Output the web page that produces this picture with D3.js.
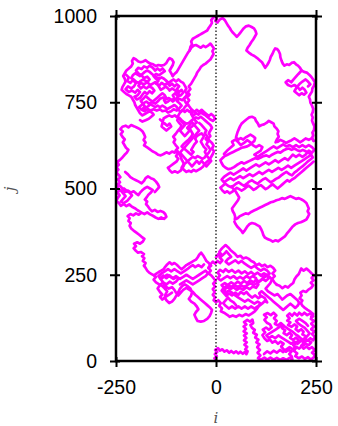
<!DOCTYPE html>
<html><head><meta charset="utf-8">
<script src="https://cdn.jsdelivr.net/npm/d3@7"></script>
<style>body{margin:0;background:#fff}</style>
</head><body><svg id="c" width="338" height="426"></svg>
<script>
const xTicks=[-250,0,250];
const yTicks=[0,250,500,750,1000];
const xLabel="i", yLabel="j";

const segStart=[[0,2],[-4,8],[2,14],[-3,20],[3,26],[-2,32],[5,37],[10,30],[16,34],[21,27],[27,31],[33,24],[38,29],[44,23],[50,28],[56,22],[61,27],[67,21],[72,26],[76,20],[79,28],[73,34],[78,41],[71,47],[77,54],[70,60],[76,67],[70,74],[77,80],[69,86],[75,93],[69,100],[76,106],[70,113],[78,119],[85,114],[91,120],[93,110],[86,104],[90,96],[97,90],[93,82],[102,76],[98,68],[106,62],[101,54],[109,48],[103,40],[110,32],[104,24],[111,16],[105,8],[113,4]];
const segBottomRight=[[113,4],[121,10],[128,4],[136,10],[144,4],[152,9],[160,3],[168,8],[176,3],[184,9],[191,4],[189,14],[183,20],[189,28],[181,33],[175,27],[169,34],[163,42],[169,50],[161,56],[155,50],[148,58],[141,53],[135,62],[128,58],[121,66],[116,75],[123,83],[117,91],[125,97],[132,91],[139,97],[135,106],[127,111],[121,119],[127,127],[120,134],[129,139],[137,133],[144,140],[151,132],[145,124],[152,116],[147,108],[155,103],[162,110],[169,103],[165,95],[173,89],[169,81],[177,75],[184,82],[190,75],[185,67],[193,61],[200,68],[207,60],[200,52],[193,46],[200,38],[195,29],[203,22],[198,14],[207,8],[215,13],[222,6],[230,11],[237,4],[244,10],[247,18],[240,24],[247,32],[240,40],[233,35],[226,42],[219,36],[213,44],[220,52],[213,60],[222,66],[229,59],[236,66],[243,60],[247,70],[240,78],[246,86],[238,92],[245,100],[238,108],[245,116],[237,122],[243,130],[236,138],[228,133],[221,140],[215,133],[208,140],[203,132],[196,139],[190,131],[184,138],[178,131],[184,124],[178,117],[186,112],[180,104],[189,99],[196,106],[203,100],[199,92],[206,86],[213,92],[219,85],[216,77],[224,72]];
const fillBottomRight=[[120,20],[128,28],[136,22],[144,30],[152,24],[160,32],[168,26],[176,34],[184,40],[192,34],[200,42],[208,36],[216,44],[224,50],[232,46],[238,54],[230,60],[222,56],[214,64],[206,72],[198,78],[190,86],[182,92],[174,98],[166,104],[158,98],[150,92],[142,86],[134,80],[126,74],[132,66],[140,72],[148,66],[156,74],[164,68],[172,62],[180,56],[188,50],[196,56],[204,50],[212,58],[220,62],[228,72],[234,80],[228,88],[222,96],[214,102],[206,108],[200,116],[208,122],[216,116],[224,110],[230,102]];
const segRightSide=[[238,128],[243,136],[236,143],[229,148],[222,154],[216,160],[212,168],[216,175],[209,182],[214,190],[211,198],[218,203],[225,200],[231,207],[238,212],[243,220],[237,227],[244,234],[239,241],[245,248],[238,255],[232,262],[226,268],[219,262],[213,268],[207,252],[201,245],[196,236],[193,226],[186,220],[180,213],[173,217],[166,211],[159,218],[152,221]];
const segCentral=[[152,221],[146,228],[140,238],[147,246],[141,254],[148,262],[143,270],[136,276],[129,272],[122,279],[115,275],[108,282],[101,278],[95,286],[88,290],[82,296],[75,300],[68,297],[61,305],[54,302],[48,310],[42,316],[36,322],[30,330],[24,336],[18,330],[13,324],[8,316],[14,308],[9,300],[16,292],[10,284],[4,290],[-2,282],[-8,288],[-14,280],[-19,270],[-13,262],[-19,254],[-12,248],[-6,240],[-1,232],[-7,224],[-2,216],[-8,208],[-3,200],[-8,192],[-2,184],[-6,176],[0,170],[6,176],[12,168],[8,160],[15,152],[12,144],[20,140],[28,134],[34,128],[42,132],[50,128],[58,134],[66,130],[74,136],[82,132],[90,138],[97,144],[103,152],[108,160],[115,166],[122,174],[128,170],[122,182],[114,188],[106,182],[98,190],[90,184],[82,192],[76,200],[70,194],[62,200],[56,192],[48,198],[40,190],[32,196],[26,188],[20,196],[14,204],[20,212],[14,220],[22,226],[30,220],[38,228],[46,222],[54,230],[62,224],[70,232],[78,226],[86,234],[94,228],[100,236],[108,230],[116,238],[124,232],[132,240],[128,248],[120,254],[112,248],[104,256],[96,250],[88,258],[80,252],[72,260],[64,254],[56,262],[48,256],[40,264],[32,258],[24,266],[18,258],[10,264],[4,256],[10,248],[4,240],[12,234],[20,240],[28,246],[36,240],[44,246],[52,238],[60,244],[68,238],[76,246],[84,240],[92,246],[100,240],[106,222],[100,212],[92,216],[84,208],[76,214],[68,206],[60,212],[52,206],[44,214],[36,208],[28,214],[20,206],[26,198]];
const fillCentral=[[0,300],[6,310],[12,302],[20,310],[26,318],[32,310],[38,302],[30,296],[24,288],[32,280],[40,286],[48,292],[56,284],[64,290],[72,282],[80,276],[88,270],[96,276],[104,268],[112,262],[120,268],[128,262],[134,254],[126,246],[118,240],[110,232],[102,226],[94,220],[86,226],[78,220],[70,214],[62,220],[54,214],[46,220],[38,214],[30,220],[22,214],[16,206],[24,198],[32,204],[40,198],[48,190],[56,184],[64,178],[72,172],[80,178],[88,172],[96,166],[104,172],[112,166],[104,158],[96,152],[88,158],[80,152],[72,158],[64,152],[56,158],[48,152],[40,158],[32,152],[24,160],[18,168],[24,176],[30,184],[36,176],[44,170],[50,162]];
const segCentralRight=[[110,250],[118,244],[126,250],[134,244],[140,236],[136,226],[130,218],[124,210],[130,202],[138,196],[146,190],[154,194],[160,186],[166,178],[172,184],[178,190],[186,194],[192,188],[198,182],[204,176],[208,168],[204,160],[198,154],[192,160],[186,166],[180,160],[174,154],[168,148],[162,154],[156,160],[150,166],[144,172],[138,178],[132,184],[126,190],[120,196],[114,202],[108,196],[112,188]];
const segLowerLeft=[[-19,270],[-12,276],[-18,284],[-24,290],[-28,298],[-32,306],[-37,314],[-42,308],[-46,300],[-50,294],[-56,290],[-62,286],[-68,282],[-74,278],[-80,272],[-86,266],[-92,272],[-98,279],[-104,284],[-110,280],[-116,286],[-122,280],[-127,273],[-131,266],[-137,262],[-143,258],[-149,253],[-155,248],[-161,252],[-167,256],[-172,262],[-176,270],[-180,276]];
const fillLowerLeft=[[-30,280],[-36,272],[-44,278],[-52,272],[-58,278],[-66,272],[-72,266],[-80,260],[-88,254],[-96,260],[-104,266],[-112,260],[-120,266],[-128,260],[-136,254],[-144,246],[-138,238],[-130,244],[-122,250],[-114,244],[-106,238],[-98,244],[-90,238],[-82,244],[-74,250],[-66,244],[-58,238],[-50,244],[-42,250],[-34,256],[-26,262],[-20,254],[-26,246],[-34,240],[-42,234],[-50,228],[-58,222],[-66,228],[-74,234],[-82,228],[-90,222]];
const segLowerBlob=[[-155,248],[-150,244],[-156,236],[-150,228],[-142,222],[-135,218],[-128,210],[-122,202],[-126,194],[-128,184],[-124,176],[-117,168],[-110,172],[-104,180],[-99,190],[-94,200],[-90,210],[-84,218],[-78,222],[-70,216],[-64,210],[-60,200],[-62,190],[-68,180],[-62,172],[-54,166],[-48,158],[-44,150],[-50,142],[-54,134],[-50,124],[-46,116],[-38,114],[-30,116],[-22,122],[-16,130],[-12,140],[-10,148],[-16,156],[-22,162],[-28,168],[-34,174],[-40,180],[-46,186],[-52,192],[-58,200],[-66,206],[-74,212],[-82,206],[-88,198],[-94,190],[-100,198],[-104,206],[-110,214],[-118,210],[-126,216],[-132,228],[-140,240],[-132,248],[-124,240],[-116,248],[-108,240],[-100,246],[-94,238],[-100,230],[-108,224],[-116,230],[-124,222],[-132,228],[-140,220],[-146,210],[-140,200],[-134,192],[-140,186],[-134,178],[-126,186],[-118,192],[-110,198]];
const segLeftChain=[[-180,276],[-176,284],[-183,290],[-179,298],[-185,304],[-180,310],[-188,316],[-195,314],[-201,320],[-206,327],[-200,333],[-205,340],[-197,344],[-190,340],[-183,346],[-179,354],[-186,360],[-192,366],[-199,372],[-206,378],[-212,384],[-216,392],[-213,400],[-219,406],[-216,414],[-221,420],[-214,426],[-207,422],[-200,428],[-193,424],[-186,430],[-179,426],[-172,431],[-165,425],[-158,421],[-151,416],[-144,412],[-137,416],[-130,412],[-124,418],[-127,426],[-132,432],[-139,435],[-146,432],[-153,438],[-160,434],[-166,441],[-170,448],[-175,455],[-172,462],[-178,468],[-173,475],[-169,482],[-163,488],[-158,495],[-165,500],[-172,505],[-179,500],[-185,494],[-190,488],[-194,481],[-200,486],[-206,492],[-213,488],[-220,494],[-227,490],[-233,497],[-237,504],[-243,510],[-247,502],[-242,495],[-246,488],[-241,480],[-246,472],[-249,464],[-243,458],[-238,450],[-231,455],[-224,449],[-217,454],[-210,447],[-203,443],[-196,437],[-189,432]];
const fillLedge=[[-245,500],[-238,494],[-232,486],[-226,478],[-232,470],[-238,462],[-230,458],[-222,464],[-216,472],[-210,480],[-216,488],[-224,494],[-230,500]];
const segLeftEdge=[[-243,510],[-246,512],[-240,518],[-245,526],[-239,533],[-244,540],[-249,548],[-244,555],[-249,562],[-243,569],[-247,577],[-240,583],[-234,590],[-229,597],[-223,604],[-219,612],[-225,618],[-229,626],[-233,634],[-228,642],[-234,650],[-238,658],[-233,665],[-239,672],[-234,679],[-226,682],[-219,677],[-212,684],[-204,680],[-197,676],[-190,672],[-184,666],[-180,658],[-177,649],[-181,641],[-176,633],[-180,625],[-172,619],[-166,614],[-159,608],[-152,604],[-145,598],[-138,596],[-131,600],[-124,605],[-117,601],[-110,607],[-103,604],[-96,608],[-92,600],[-88,592],[-86,584],[-82,576],[-80,567],[-84,559],[-89,551],[-96,546],[-103,550],[-110,546],[-116,553],[-120,560]];
const segLowLeft=[[-227,548],[-220,541],[-214,533],[-207,528],[-200,524],[-193,520],[-186,515],[-180,522],[-176,530],[-170,535],[-163,530],[-156,527],[-150,520],[-145,512],[-142,504],[-148,496],[-153,490]];
const segMiddle=[[-120,560],[-113,566],[-106,572],[-99,578],[-94,586],[-100,594],[-95,602],[-101,610],[-95,618],[-101,626],[-106,634],[-102,642],[-107,650],[-101,658],[-96,666],[-90,674],[-86,682],[-92,690],[-97,698],[-92,705],[-86,698],[-80,692],[-74,688],[-68,690],[-62,696],[-56,702],[-50,706],[-44,703],[-38,708],[-32,702],[-26,696],[-20,690],[-14,684],[-10,676],[-14,668],[-18,660],[-14,652],[-20,645],[-16,638],[-10,632],[-6,624],[-10,616],[-5,608],[-8,600],[-12,592],[-16,584],[-22,578],[-28,572],[-32,564],[-38,558],[-44,554],[-50,550],[-56,554],[-62,548],[-68,552],[-74,548],[-80,554],[-86,560],[-82,568],[-76,574],[-70,580],[-64,586],[-58,592],[-52,588],[-46,594],[-40,590],[-34,586],[-28,590],[-24,598],[-28,606],[-24,614],[-30,620],[-34,628],[-38,636],[-34,644],[-30,652],[-36,660],[-42,656],[-48,652],[-52,644],[-48,636],[-54,628],[-58,620],[-62,612],[-56,606],[-62,598],[-68,604],[-74,610],[-80,616],[-86,622],[-80,630],[-74,636],[-68,642],[-62,650],[-58,658],[-62,666],[-66,674],[-60,680],[-54,686],[-48,692]];
const fillMiddle=[[-90,700],[-84,692],[-78,684],[-84,676],[-90,668],[-84,660],[-78,652],[-72,660],[-66,668],[-72,676],[-66,684],[-60,692],[-54,684],[-48,676],[-42,668],[-48,660],[-54,652],[-60,644],[-66,636],[-72,628],[-78,620],[-84,612],[-90,604],[-84,596],[-78,588],[-72,580],[-66,572],[-60,564],[-54,572],[-48,580],[-42,572],[-36,580],[-30,572],[-24,564],[-18,572],[-12,580],[-18,588],[-24,596],[-18,604],[-14,612],[-18,620],[-24,628],[-20,636],[-26,644],[-22,652],[-28,660],[-24,668],[-30,676],[-36,684],[-42,690]];
const segMiddleTop=[[-140,700],[-134,694],[-128,688],[-122,682],[-116,688],[-112,680],[-118,674],[-124,668],[-130,674],[-136,680],[-131,703],[-124,708],[-117,712],[-110,708],[-103,712],[-97,706],[-90,720],[-84,728],[-78,722],[-72,728],[-66,722],[-60,728],[-54,722],[-48,728],[-42,722],[-36,728],[-30,722],[-24,716],[-18,710],[-12,716],[-6,710],[-2,702],[-8,696],[-14,700],[-20,706],[-26,712],[-32,716],[-38,720],[-44,714],[-50,718],[-56,712],[-62,718]];
const segUpChain=[[-48,692],[-54,700],[-58,708],[-62,716],[-58,724],[-63,732],[-68,740],[-72,748],[-67,756],[-72,764],[-66,772],[-70,780],[-64,788],[-68,796],[-62,804],[-58,812],[-54,820],[-50,828],[-47,836],[-42,844],[-38,852],[-32,858],[-26,862],[-20,868],[-14,874],[-10,882],[-6,890],[-9,898],[-5,906],[-10,914],[-14,920],[-20,914],[-26,910],[-32,914],[-38,908],[-44,912],[-50,916],[-56,914],[-62,908],[-66,900]];
const segTopArm=[[-108,826],[-104,832],[-98,838],[-94,846],[-90,854],[-86,862],[-82,870],[-78,878],[-74,886],[-70,894],[-66,900],[-64,910],[-60,918],[-62,926],[-58,934],[-52,938],[-46,942],[-40,946],[-34,950],[-28,954],[-22,958],[-18,966],[-14,972],[-10,980],[-12,988],[-8,994],[-3,999],[2,994],[-2,986],[4,982]];
const segRightArm=[[4,982],[10,990],[16,994],[22,988],[26,980],[30,972],[34,966],[38,958],[42,952],[47,946],[52,940],[57,946],[61,952],[65,958],[69,964],[75,970],[82,972],[89,968],[95,964],[99,956],[101,948],[97,940],[93,932],[88,924],[84,916],[79,908],[76,900],[82,894],[89,888],[96,884],[103,878],[109,872],[115,866],[119,858],[123,850],[128,858],[132,866],[135,874],[137,882],[141,890],[144,898],[148,906],[153,904],[157,898],[160,890],[161,880],[164,870],[167,862],[171,856],[177,860],[183,858],[189,864],[195,866],[200,860],[205,856],[210,850],[214,842],[220,838],[227,836],[233,830],[238,824],[243,816],[247,808],[245,798],[241,790],[240,781],[236,774],[232,766],[235,758],[236,749],[240,740],[243,731],[242,722],[239,714],[242,706],[240,697],[243,688],[246,680],[245,670],[241,662],[243,654],[240,646],[244,638]];
const segRightBlob=[[214,842],[206,832],[200,824],[194,816],[188,808],[180,814],[174,808],[180,800],[188,796],[196,800],[204,794],[210,786],[216,792],[222,786],[226,778],[220,772],[214,776],[208,770],[202,776],[196,782],[200,790],[208,802],[216,810],[224,816],[230,810],[236,802],[230,796]];
const segMidRight=[[244,638],[240,646],[232,641],[224,645],[216,638],[210,634],[203,640],[196,645],[189,640],[182,636],[175,632],[168,637],[161,641],[155,636],[149,634],[152,642],[157,650],[154,658],[156,666],[152,673],[146,680],[144,688],[138,692],[132,696],[126,690],[120,686],[114,684],[108,680],[105,688],[100,696],[97,704],[90,708],[83,706],[76,700],[70,694],[64,688],[60,680],[57,672],[54,664],[52,656],[50,648],[56,642],[62,646],[68,642],[74,648],[80,652],[86,656],[92,652],[98,646],[96,638],[90,632],[84,626],[78,622],[71,620],[64,618],[57,614],[50,610],[43,606],[36,602],[29,598],[22,594],[16,588],[11,582],[14,574],[18,566],[24,560],[31,556],[38,558],[45,562],[52,568],[58,572],[64,576],[70,572],[77,576],[84,580],[91,584],[98,588],[105,586],[112,590],[119,594],[126,596],[133,592],[140,598],[147,602],[154,606],[161,604],[168,610],[175,614],[182,616],[189,612],[196,616],[203,611],[210,608],[217,612],[224,608],[231,604],[238,598],[242,590],[236,584],[229,578],[222,570],[216,564],[209,558],[203,552],[196,546],[190,538],[183,542],[176,548],[170,544],[163,538],[157,532],[150,528],[143,522],[137,518],[130,524],[124,530],[117,526],[110,520],[104,514],[97,518],[90,524],[83,520],[77,514],[70,508],[64,512],[57,518],[50,514],[44,508],[37,504],[30,508],[23,514],[17,508],[11,502],[16,494],[22,488],[28,492],[34,486],[40,490],[46,496],[52,502],[58,498],[64,494],[70,498],[76,504],[82,508],[88,502],[94,496],[100,500],[106,506],[112,510],[118,504],[124,498],[130,502],[136,508],[142,512],[148,506],[154,500],[160,506],[166,512],[172,518],[178,524],[184,520],[190,526],[196,530],[202,536],[208,542],[214,548],[220,554],[226,560],[232,566],[238,572],[244,578]];
const fillMidRight=[[20,600],[28,610],[36,618],[44,626],[40,636],[48,642],[56,634],[62,626],[70,632],[78,640],[86,634],[92,626],[100,620],[108,626],[116,620],[112,610],[104,604],[96,598],[104,592],[112,598],[120,604],[128,610],[136,616],[144,622],[152,616],[160,622],[168,628],[176,622],[184,626],[192,620],[200,626],[208,620],[216,626],[224,620],[232,626],[240,620],[246,612],[240,604],[232,610],[224,598],[216,592],[208,598],[200,592],[192,598],[186,590],[180,582],[172,588],[164,582],[156,576],[148,582],[140,576],[132,570],[124,576],[116,570],[108,564],[100,570],[92,564],[84,558],[76,552],[68,558],[60,552],[52,546],[44,540],[36,546],[28,540],[20,534],[14,526],[20,518],[28,524],[36,530],[44,524],[52,530],[60,536],[68,530],[76,536],[84,542],[92,536],[100,542],[108,548],[116,542],[124,548],[132,554],[140,548],[148,554],[156,560],[164,554],[172,560],[180,566],[188,560],[196,566],[204,572],[212,578],[220,584],[228,590],[236,596]];
const segHook=[[38,506],[44,498],[50,490],[54,482],[58,474],[55,466],[50,458],[45,450],[40,442],[42,434],[46,426],[48,418],[47,410],[54,414],[60,420],[67,424],[74,428],[81,426],[88,432],[95,436],[102,440],[109,444],[116,448],[123,452],[130,456],[137,460],[144,462],[151,466],[158,468],[165,472],[172,470],[179,474],[186,478],[193,474],[200,470],[207,472],[214,468],[220,464],[226,458],[229,450],[232,442],[229,434],[233,426],[230,418],[226,410],[219,406],[212,402],[205,400],[198,396],[192,390],[187,383],[182,376],[177,369],[173,362],[167,357],[161,352],[155,347],[149,350],[142,346],[135,351],[128,354],[122,358],[118,366],[116,374],[113,382],[109,390],[103,394],[97,398],[90,400],[84,397],[79,391],[75,384],[71,377],[67,371],[63,378],[58,384],[53,390],[49,397],[46,404]];
const segLeftCluster=[[-108,826],[-112,834],[-116,842],[-112,850],[-108,858],[-106,866],[-110,874],[-116,878],[-120,872],[-124,864],[-130,858],[-137,856],[-144,858],[-150,855],[-157,860],[-164,862],[-170,866],[-176,872],[-182,868],[-188,866],[-194,868],[-200,874],[-206,878],[-210,870],[-208,862],[-212,854],[-218,848],[-224,842],[-228,834],[-232,826],[-228,818],[-226,810],[-230,802],[-234,794],[-236,786],[-230,780],[-224,774],[-218,770],[-212,766],[-208,758],[-204,750],[-202,742],[-198,734],[-194,726],[-190,718],[-184,712],[-178,716],[-172,720],[-166,724],[-160,720],[-156,714],[-162,708],[-168,702],[-176,698],[-184,694],[-190,698]];
const segLeftInner=[[-184,730],[-178,738],[-183,746],[-188,754],[-182,760],[-176,768],[-170,762],[-164,756],[-158,752],[-152,758],[-146,764],[-140,770],[-134,776],[-128,770],[-124,762],[-130,756],[-126,748],[-120,752],[-114,758],[-108,752],[-102,758],[-96,764],[-92,772],[-98,780],[-104,786],[-110,790],[-116,784],[-120,790],[-126,796],[-132,790],[-138,786],[-142,794],[-146,802],[-152,808],[-158,804],[-164,800],[-170,806],[-176,812],[-182,816],[-188,812],[-194,806],[-200,810],[-206,816],[-212,820],[-208,828],[-202,834],[-196,830],[-190,826],[-184,832],[-178,838],[-172,842],[-166,838],[-160,832],[-154,826],[-148,822],[-142,818],[-136,822],[-130,818],[-124,812],[-118,806],[-112,812],[-106,816],[-100,810],[-94,816],[-88,810],[-82,806],[-78,798],[-74,790],[-78,782],[-72,774],[-76,766],[-80,758],[-76,750],[-72,742],[-78,736],[-82,728],[-88,722],[-94,728],[-98,736],[-104,742],[-110,738],[-116,734],[-122,730],[-128,736],[-134,740],[-140,736],[-146,740],[-152,736],[-158,740],[-164,744],[-170,738],[-176,734],[-180,726]];
const fillLeft=[[-225,830],[-218,822],[-222,812],[-214,806],[-208,814],[-200,806],[-205,796],[-212,790],[-220,796],[-226,788],[-218,780],[-210,784],[-202,778],[-196,786],[-190,780],[-196,770],[-204,766],[-198,758],[-190,762],[-184,772],[-178,780],[-172,774],[-166,782],[-160,776],[-154,784],[-160,792],[-168,796],[-174,790],[-182,796],[-188,790],[-194,798],[-188,806],[-180,802],[-172,808],[-166,816],[-172,824],[-180,820],[-186,828],[-194,834],[-200,842],[-194,850],[-186,846],[-180,854],[-172,850],[-166,856],[-158,850],[-152,842],[-146,848],[-140,842],[-134,848],[-128,840],[-136,834],[-142,828],[-150,832],[-156,826],[-150,818],[-144,812],[-150,804],[-142,798],[-136,806],[-128,800],[-122,806],[-116,798],[-110,804],[-104,796],[-98,802],[-92,796],[-98,788],[-92,780],[-86,786],[-82,778],[-88,770],[-96,768],[-102,776],[-108,770],[-104,762],[-110,756],[-118,762],[-126,758],[-132,764],[-140,760],[-146,752],[-152,746],[-160,750],[-168,746],[-174,752],[-180,748],[-186,742],[-192,736],[-186,728],[-178,724],[-170,730],[-164,726],[-156,730],[-148,726],[-140,730],[-134,724],[-126,726],[-120,720],[-112,724],[-106,730],[-98,726],[-92,732],[-86,740],[-92,748],[-98,754],[-92,760],[-84,756],[-78,764]];

const segments=[segStart,segBottomRight,fillBottomRight,segRightSide,segCentral,fillCentral,segCentralRight,segLowerLeft,fillLowerLeft,segLowerBlob,segLeftChain,fillLedge,segLeftEdge,segLowLeft,segMiddle,fillMiddle,segMiddleTop,segUpChain,segTopArm,segRightArm,segRightBlob,segMidRight,fillMidRight,segHook,segLeftCluster,segLeftInner,fillLeft];

const svg=d3.select("#c");
const x=d3.scaleLinear().domain([-250,250]).range([116,316]);
const y=d3.scaleLinear().domain([0,1000]).range([361,16]);
const line=d3.line().x(d=>x(d[0])).y(d=>y(d[1]));

svg.append("g").selectAll("path").data(segments).join("path")
  .attr("d",line).attr("fill","none").attr("stroke","#ff00ff")
  .attr("stroke-width",2.7).attr("stroke-linejoin","round").attr("stroke-linecap","round");

svg.append("line").attr("x1",x(0)).attr("x2",x(0)).attr("y1",y(0)).attr("y2",y(1000))
  .attr("stroke","#000").attr("stroke-width",1.2).attr("stroke-dasharray","1.5,2");

const font="'Liberation Sans', Arial, sans-serif";
const fmt=d=>String(d);
function styleAxis(g){
  g.select(".domain").remove();
  g.selectAll(".tick line").attr("stroke","#000").attr("stroke-width",2);
  g.selectAll(".tick text").attr("font-family",font).attr("font-size","19.5px").attr("fill","#000");
}
svg.append("g").attr("transform",`translate(0,${y(0)})`).call(d3.axisBottom(x).tickValues(xTicks).tickSize(6).tickPadding(13).tickFormat(fmt)).call(styleAxis);
svg.append("g").attr("transform",`translate(0,${y(0)})`).call(d3.axisBottom(x).tickValues(xTicks).tickSize(-4).tickFormat("")).call(styleAxis);
svg.append("g").attr("transform",`translate(0,${y(1000)})`).call(d3.axisTop(x).tickValues(xTicks).tickSize(6).tickFormat("")).call(styleAxis);
svg.append("g").attr("transform",`translate(0,${y(1000)})`).call(d3.axisTop(x).tickValues(xTicks).tickSize(-4).tickFormat("")).call(styleAxis);
svg.append("g").attr("transform",`translate(${x(-250)},0)`).call(d3.axisLeft(y).tickValues(yTicks).tickSize(6).tickPadding(13).tickFormat(fmt)).call(styleAxis);
svg.append("g").attr("transform",`translate(${x(-250)},0)`).call(d3.axisLeft(y).tickValues(yTicks).tickSize(-4).tickFormat("")).call(styleAxis);
svg.append("g").attr("transform",`translate(${x(250)},0)`).call(d3.axisRight(y).tickValues(yTicks).tickSize(6).tickFormat("")).call(styleAxis);
svg.append("g").attr("transform",`translate(${x(250)},0)`).call(d3.axisRight(y).tickValues(yTicks).tickSize(-4).tickFormat("")).call(styleAxis);

svg.append("rect").attr("x",x(-250)).attr("y",y(1000)).attr("width",x(250)-x(-250)).attr("height",y(0)-y(1000))
  .attr("fill","none").attr("stroke","#000").attr("stroke-width",2.5);

svg.append("text").attr("x",216).attr("y",423).attr("text-anchor","middle")
  .attr("font-family","'DejaVu Serif', 'Liberation Serif', serif").attr("font-style","italic").attr("font-size","15px").attr("fill","#555").text(xLabel);
svg.append("text").attr("transform","translate(15,189) rotate(-90)").attr("text-anchor","middle")
  .attr("font-family","'DejaVu Serif', 'Liberation Serif', serif").attr("font-style","italic").attr("font-size","15px").attr("fill","#555").text(yLabel);
</script></body></html>
